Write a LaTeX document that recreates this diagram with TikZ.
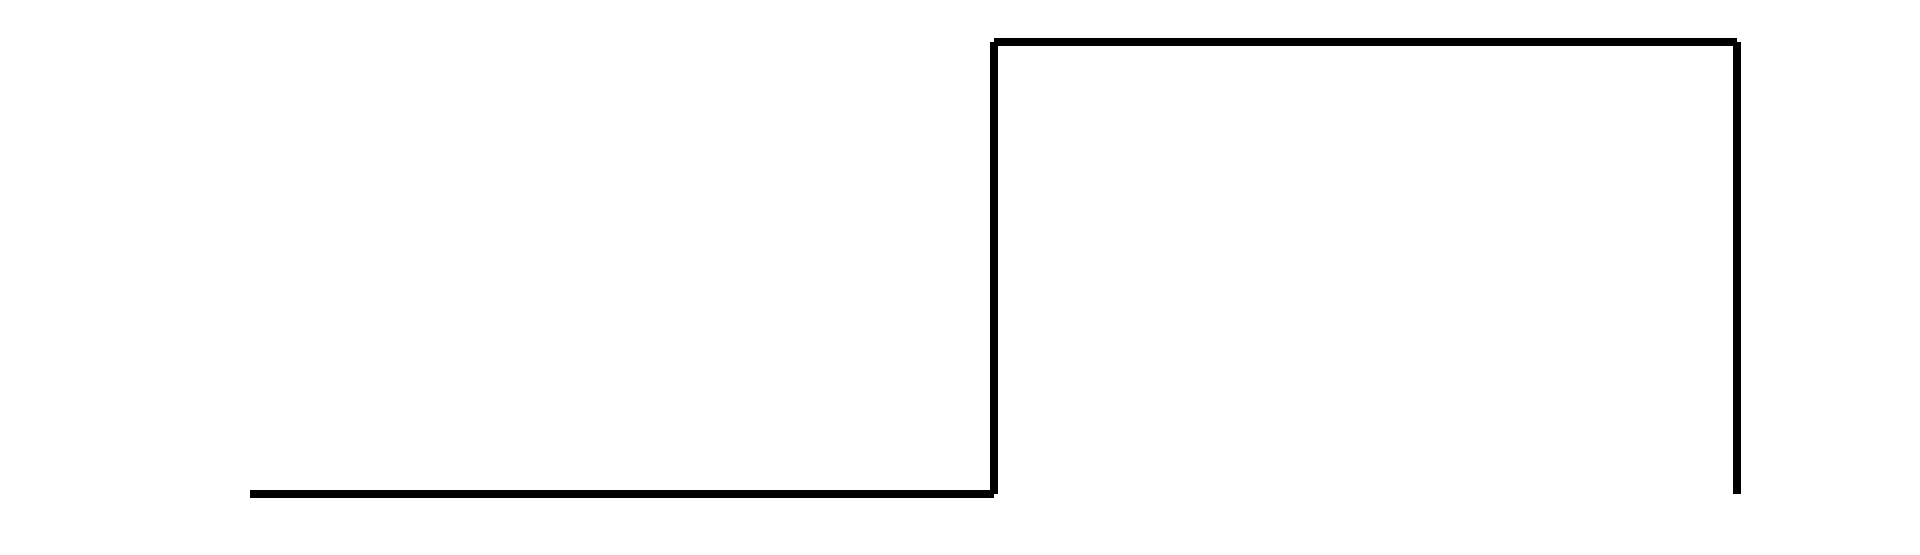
\documentclass[tikz,border=0pt]{standalone}
\usepackage{tikz}

\begin{document}
\begin{tikzpicture}[
  x=0.5pt, y=0.5pt,
  wave/.style={draw=black, line width=4.3pt},
]
\useasboundingbox (0,0) rectangle (1920,555);
\coordinate (lowstart) at (250,61);
\coordinate (riseb) at (994,61);
\coordinate (riset) at (994,513);
\coordinate (fallt) at (1737,513);
\coordinate (fallb) at (1737,61);

% each edge drawn on its own, butt ends
\draw[wave] (lowstart) -- (riseb);
\draw[wave] (riseb) -- (riset);
\draw[wave] (riset) -- (fallt);
\draw[wave] (fallt) -- (fallb);
\end{tikzpicture}
\end{document}
